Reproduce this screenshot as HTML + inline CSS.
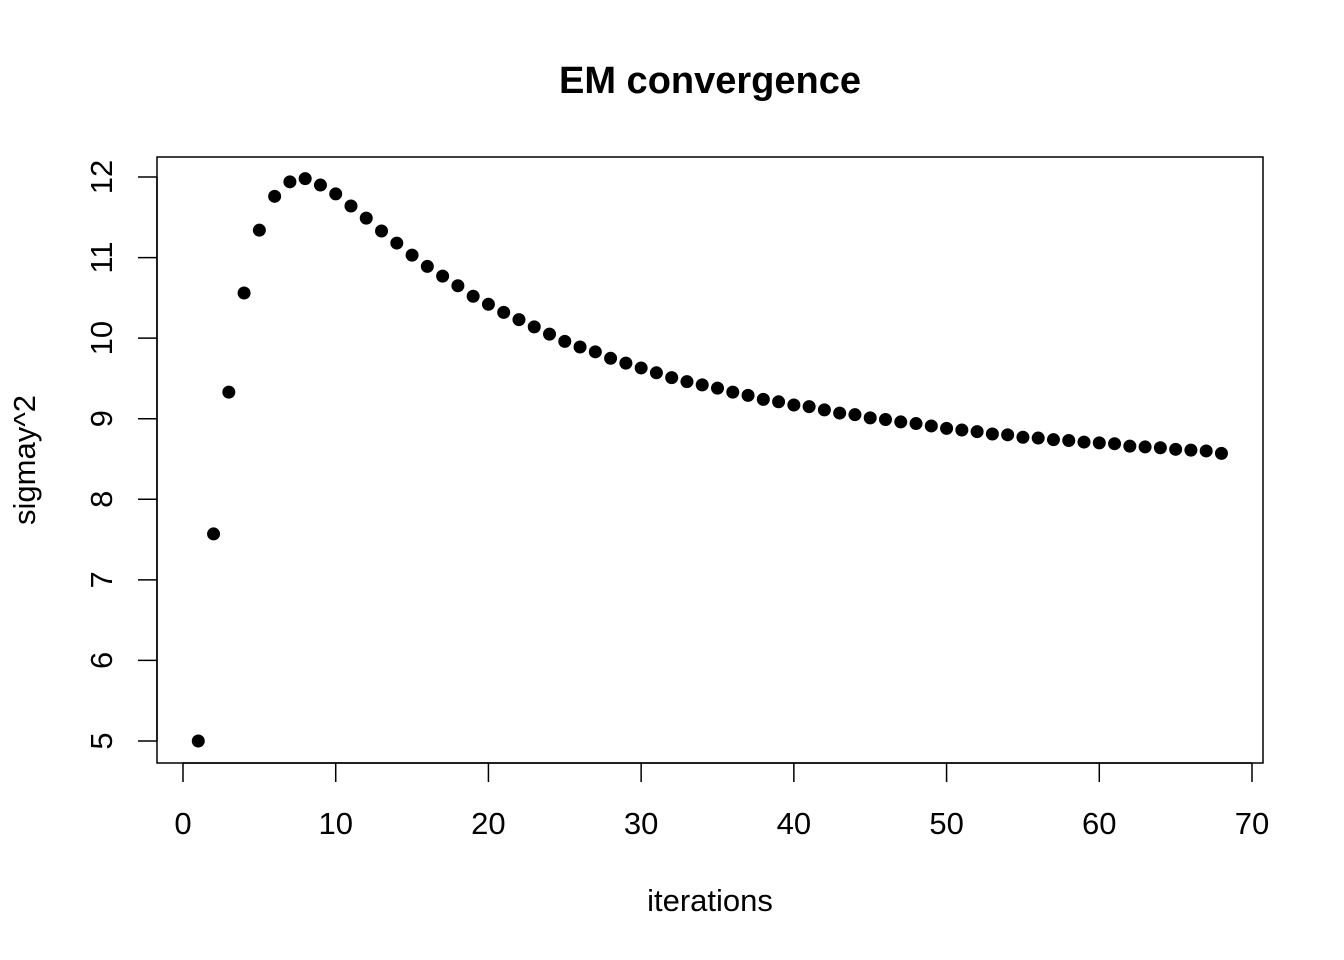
<!DOCTYPE html>
<html><head><meta charset="utf-8">
<style>
html,body{margin:0;padding:0;background:#fff;}
svg{display:block;font-family:"Liberation Sans",Arial,sans-serif;}
</style></head>
<body>
<svg id="chart" width="1344" height="960" viewBox="0 0 1344 960" xmlns="http://www.w3.org/2000/svg">
<rect width="1344" height="960" fill="#fff"/>
<text x="710" y="93" text-anchor="middle" font-size="38" font-weight="bold">EM convergence</text>
<rect x="157" y="157" width="1106" height="606" fill="none" stroke="#000" stroke-width="1.5"/>
<text x="710" y="911" text-anchor="middle" font-size="31">iterations</text>
<text transform="translate(35,460) rotate(-90)" text-anchor="middle" font-size="31">sigmay^2</text>
<g id="axes"></g>
<g id="points"></g>
</svg>
<script>
const xTicks = [0,10,20,30,40,50,60,70];
const yTicks = [5,6,7,8,9,10,11,12];
const sigmaValues = [5.00,7.57,9.33,10.56,11.34,11.76,11.94,11.98,11.90,11.79,
11.64,11.49,11.33,11.18,11.03,10.89,10.77,10.65,10.52,10.42,
10.32,10.23,10.14,10.05,9.96,9.89,9.83,9.75,9.69,9.63,
9.57,9.51,9.46,9.42,9.38,9.33,9.29,9.24,9.21,9.17,
9.15,9.11,9.07,9.05,9.01,8.99,8.96,8.94,8.91,8.88,
8.86,8.84,8.81,8.80,8.77,8.76,8.74,8.73,8.71,8.70,
8.69,8.66,8.65,8.64,8.62,8.61,8.60,8.57];

const NS="http://www.w3.org/2000/svg";
function xScale(v){return 183+(v-0)*(1252-183)/70;}
function yScale(v){return 741-(v-5)*(741-177)/7;}
function mk(tag,attrs,parent){const e=document.createElementNS(NS,tag);for(const k in attrs)e.setAttribute(k,attrs[k]);parent.appendChild(e);return e;}

const axes=document.getElementById('axes');
mk('line',{x1:xScale(xTicks[0]),x2:xScale(xTicks[xTicks.length-1]),y1:763,y2:763,stroke:'#000','stroke-width':1.5},axes);
xTicks.forEach(t=>{
  const x=xScale(t);
  const l=mk('line',{x1:x,x2:x,y1:763,y2:782,stroke:'#000','stroke-width':1.5},axes);
  
  
  const tx=mk('text',{x:x,y:834,'text-anchor':'middle','font-size':31},axes);
  tx.textContent=t;
  
  
});
mk('line',{x1:157,x2:157,y1:yScale(yTicks[0]),y2:yScale(yTicks[yTicks.length-1]),stroke:'#000','stroke-width':1.5},axes);
yTicks.forEach(t=>{
  const y=yScale(t);
  const l=mk('line',{x1:138,x2:157,y1:y,y2:y,stroke:'#000','stroke-width':1.5},axes);
  
  
  const tx=mk('text',{transform:`translate(112,${y}) rotate(-90)`,'text-anchor':'middle','font-size':31},axes);
  tx.textContent=t;
  
  
});
const pts=document.getElementById('points');
sigmaValues.forEach((v,i)=>{
  const c=mk('circle',{cx:xScale(i+1),cy:yScale(v),r:6.5,fill:'#000'},pts);
  
  
});
</script>
</body></html>
